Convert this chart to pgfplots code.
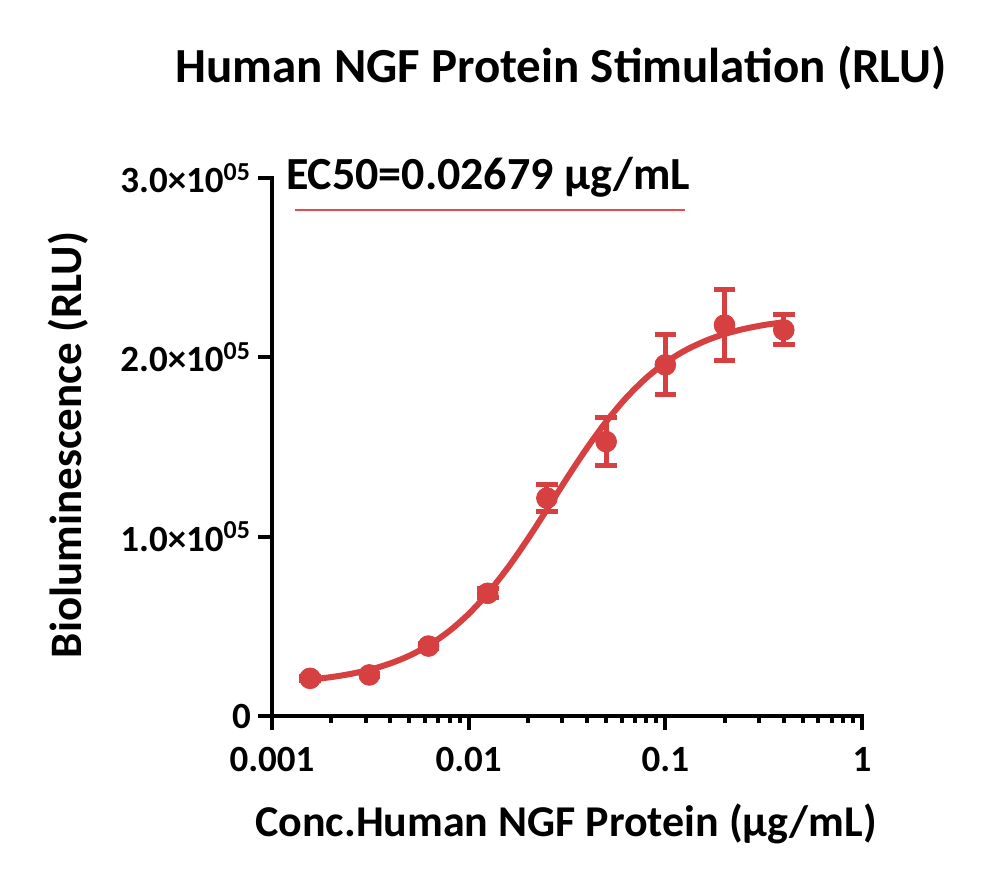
\documentclass[border=0pt]{standalone}
\usepackage{fontspec}
\setmainfont{Carlito}
\usepackage{pgfplots}
\pgfplotsset{compat=1.18}
\definecolor{ngfred}{RGB}{214,64,64}
\definecolor{ecline}{RGB}{232,72,78}
\begin{document}
\begin{tikzpicture}
\path[use as bounding box] (-136pt,-84pt) rectangle (364pt,358pt);
\begin{axis}[
  scale only axis, width=295pt, height=269pt,
  xmode=log, xmin=0.001, xmax=1, ymin=0, ymax=300000,
  axis lines*=left,
  axis line style={line width=2.2pt, line cap=rect},
  tick align=outside,
  major tick length=7pt, minor tick length=3.5pt,
  tick style={black, line width=2pt},
  xtick={0.001,0.01,0.1,1},
  xticklabels={0.001,0.01,0.1,1},
  minor xtick={0.002,0.003,0.004,0.005,0.006,0.007,0.008,0.009,
               0.02,0.03,0.04,0.05,0.06,0.07,0.08,0.09,
               0.2,0.3,0.4,0.5,0.6,0.7,0.8,0.9},
  ytick={0,100000,200000,300000},
  scaled y ticks=false,
  yticklabels={0,1.0×10\textsuperscript{05},2.0×10\textsuperscript{05},3.0×10\textsuperscript{05}},
  xticklabel style={font=\bfseries\fontsize{18.5}{22}\selectfont, yshift=-5pt},
  yticklabel style={font=\bfseries\fontsize{18.5}{22}\selectfont},
  clip=false,
]
% fitted curve
\addplot[ngfred, line width=3pt, smooth, no marks] coordinates {
  (0.0016,20415)(0.002,21690)(0.0025,23425)(0.0032,26070)(0.004,29330)
  (0.005,33660)(0.0063,39560)(0.008,47530)(0.01,56930)(0.0125,68400)
  (0.016,83400)(0.02,98730)(0.025,115130)(0.032,133550)(0.04,149500)
  (0.05,164100)(0.063,177240)(0.08,188500)(0.1,196950)(0.125,203620)
  (0.16,209200)(0.2,212980)(0.25,215790)(0.32,218090)(0.4,219570)};
% mean +- error
\addplot[ngfred, only marks, mark=*, mark size=5.2pt,
  mark options={draw=ngfred, fill=ngfred},
  error bars/.cd, y dir=both, y explicit,
  error bar style={line width=2.5pt, ngfred},
  error mark options={ngfred, line width=2.5pt, mark size=5.4pt, rotate=90}]
  coordinates {
  (0.0015625,21000) +- (0,1000)
  (0.003125,22900) +- (0,1000)
  (0.00625,39000) +- (0,1500)
  (0.0125,68400) +- (0,2500)
  (0.025,121500) +- (0,7500)
  (0.05,153000) +- (0,13500)
  (0.1,195800) +- (0,16700)
  (0.2,218000) +- (0,20000)
  (0.4,215300) +- (0,8400)};
\end{axis}
\node[anchor=base, font=\bfseries\fontsize{24.5}{28}\selectfont] at (144.5pt,316.5pt) {Human NGF Protein Stimulation (RLU)};
\node[anchor=base, font=\bfseries\fontsize{23}{27}\selectfont] at (108pt,263pt) {EC50=0.02679 μg/mL};
\draw[ecline, line width=1pt] (11.5pt,253pt) -- (206.5pt,253pt);
\node[anchor=base, font=\bfseries\fontsize{22}{26}\selectfont] at (147pt,-60pt) {Conc.Human NGF Protein (μg/mL)};
\node[anchor=base, rotate=90, font=\bfseries\fontsize{22.5}{26}\selectfont] at (-95pt,135.5pt) {Bioluminescence (RLU)};
\end{tikzpicture}
\end{document}
